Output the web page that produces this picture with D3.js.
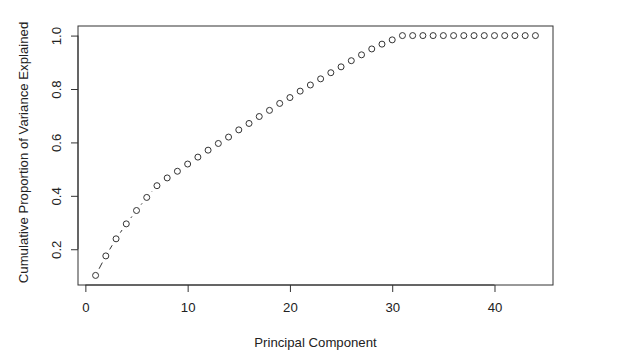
<!DOCTYPE html>
<html>
<head>
<meta charset="utf-8">
<script src="https://cdn.jsdelivr.net/npm/d3@7"></script>
<style>
  html, body { margin: 0; padding: 0; background: #fff; }
  svg { display: block; }
  text { font-family: "Liberation Sans", Arial, sans-serif; fill: #222; }
</style>
</head>
<body>
<svg id="chart" width="640" height="357"></svg>
<script>
const components = d3.range(1, 45);
const cumulativeVariance = [
  0.102, 0.175, 0.239, 0.295, 0.345, 0.394, 0.438, 0.467, 0.492, 0.519,
  0.545, 0.571, 0.596, 0.620, 0.647, 0.671, 0.697, 0.720, 0.746, 0.768,
  0.792, 0.815, 0.838, 0.861, 0.883, 0.906, 0.928, 0.950, 0.968, 0.984,
  1.000, 1.000, 1.000, 1.000, 1.000, 1.000, 1.000, 1.000, 1.000, 1.000,
  1.000, 1.000, 1.000, 1.000
];
const xTicks = [0, 10, 20, 30, 40];
const yTicks = [0.2, 0.4, 0.6, 0.8, 1.0];
const xTitle = "Principal Component";
const yTitle = "Cumulative Proportion of Variance Explained";

const svg = d3.select("#chart");
const box = { left: 78, right: 553, top: 26, bottom: 285 };
const fs = 13.2;

const xMin = d3.min(components), xMax = d3.max(components);
const yMin = d3.min(cumulativeVariance), yMax = d3.max(cumulativeVariance);
const xPad = (xMax - xMin) * 0.04, yPad = (yMax - yMin) * 0.04;

const x = d3.scaleLinear().domain([xMin - xPad, xMax + xPad]).range([box.left, box.right]);
const y = d3.scaleLinear().domain([yMin - yPad, yMax + yPad]).range([box.bottom, box.top]);

const stroke = "#333";

// Box
svg.append("rect")
  .attr("x", box.left).attr("y", box.top)
  .attr("width", box.right - box.left).attr("height", box.bottom - box.top)
  .attr("fill", "none").attr("stroke", stroke).attr("stroke-width", 1);

// X axis (R style: line from first to last tick)
const xAxis = d3.axisBottom(x).tickValues(xTicks).tickSize(7).tickPadding(11).tickFormat(d3.format("d"));
const gx = svg.append("g").attr("transform", `translate(0,${box.bottom})`).call(xAxis);
gx.select(".domain").remove();
gx.append("line")
  .attr("x1", x(xTicks[0])).attr("x2", x(xTicks[xTicks.length - 1]))
  .attr("y1", 0).attr("y2", 0).attr("stroke", stroke);
gx.selectAll(".tick line").attr("stroke", stroke);
gx.selectAll(".tick text").attr("font-size", fs).attr("fill", "#222")
  .attr("font-family", "Liberation Sans, Arial, sans-serif");

// Y axis
const yAxis = d3.axisLeft(y).tickValues(yTicks).tickSize(7).tickFormat(d3.format(".1f"));
const gy = svg.append("g").attr("transform", `translate(${box.left},0)`).call(yAxis);
gy.select(".domain").remove();
gy.append("line")
  .attr("y1", y(yTicks[0])).attr("y2", y(yTicks[yTicks.length - 1]))
  .attr("x1", 0).attr("x2", 0).attr("stroke", stroke);
gy.selectAll(".tick line").attr("stroke", stroke);
gy.selectAll(".tick text")
  .attr("font-size", fs).attr("fill", "#222")
  .attr("font-family", "Liberation Sans, Arial, sans-serif")
  .attr("text-anchor", "middle")
  .attr("x", null)
  .attr("transform", "translate(-22,0) rotate(-90)")
  .attr("dy", "0.35em");

// Titles
svg.append("text")
  .attr("x", (box.left + box.right) / 2).attr("y", 347)
  .attr("text-anchor", "middle").attr("font-size", fs)
  .text(xTitle);
svg.append("text")
  .attr("transform", `translate(28,${(box.top + box.bottom) / 2 - 3}) rotate(-90)`)
  .attr("text-anchor", "middle").attr("font-size", fs)
  .text(yTitle);

// Data: type = "b" (points with gapped line segments)
const data = components.map((c, i) => ({ c, v: cumulativeVariance[i] }));
const gap = 7.5;
const segs = [];
for (let i = 0; i < data.length - 1; i++) {
  const x1 = x(data[i].c), y1 = y(data[i].v);
  const x2 = x(data[i + 1].c), y2 = y(data[i + 1].v);
  const d = Math.hypot(x2 - x1, y2 - y1);
  if (d > 2 * gap) {
    const ux = (x2 - x1) / d, uy = (y2 - y1) / d;
    segs.push({ x1: x1 + ux * gap, y1: y1 + uy * gap, x2: x2 - ux * gap, y2: y2 - uy * gap });
  }
}
svg.append("g").selectAll("line").data(segs).join("line")
  .attr("x1", d => d.x1).attr("y1", d => d.y1)
  .attr("x2", d => d.x2).attr("y2", d => d.y2)
  .attr("stroke", stroke).attr("stroke-width", 1);

svg.append("g").selectAll("circle").data(data).join("circle")
  .attr("cx", d => x(d.c)).attr("cy", d => y(d.v))
  .attr("r", 3).attr("fill", "none").attr("stroke", stroke).attr("stroke-width", 1);
</script>
</body>
</html>
